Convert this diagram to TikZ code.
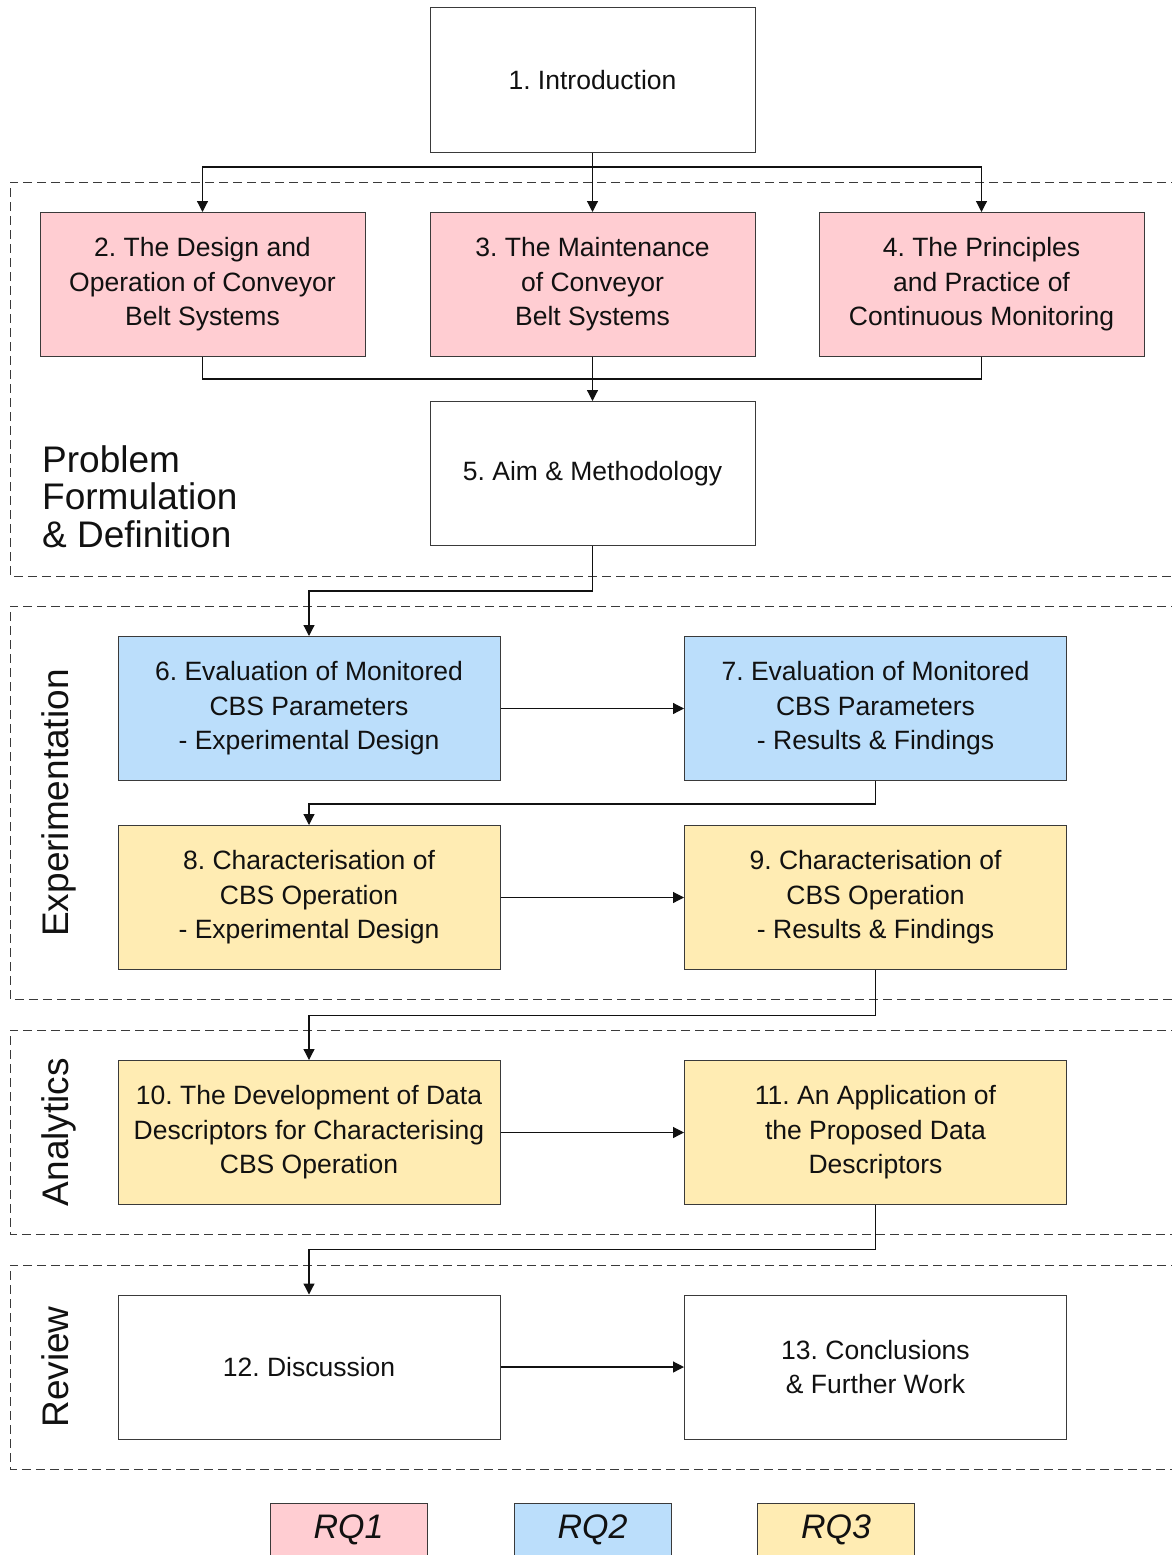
\documentclass[tikz,border=0pt]{standalone}
\usepackage{fontspec}
\setmainfont{Liberation Sans}
\frenchspacing
\usetikzlibrary{arrows.meta}
\definecolor{rqpink}{HTML}{FFCDD2}
\definecolor{rqblue}{HTML}{BBDEFB}
\definecolor{rqyellow}{HTML}{FFECB3}
\definecolor{edgegrey}{HTML}{3A3A3A}
\definecolor{ink}{HTML}{111111}

\begin{document}
\begin{tikzpicture}[x=1pt,y=-1pt,
  chapter/.style={draw=edgegrey, line width=1pt, fill=white, minimum width=325pt,
    minimum height=144pt, inner sep=0pt, align=center, text=ink,
    font=\fontsize{26.5}{34.5}\selectfont},
  wide/.style={chapter, minimum width=382pt},
  conn/.style={line width=1.2pt, draw=ink},
  arr/.style={conn, -{Triangle[length=11pt,width=11pt]}},
  region/.style={draw=edgegrey, line width=1pt, dash pattern=on 9pt off 5pt},
  phase/.style={rotate=90, anchor=base, text=ink, inner sep=0pt,
    font=\fontsize{37}{37}\selectfont},
  legend/.style={draw=edgegrey, line width=1pt, minimum width=157pt,
    minimum height=53pt, inner sep=0pt, text=ink,
    font=\fontsize{34}{34}\selectfont\itshape}
]
\useasboundingbox (0,0) rectangle (1171,1555);

% dashed phase regions (open on the right)
\draw[region] (1180,182) -| (10,576) -- (1180,576);
\draw[region] (1180,606) -| (10,999) -- (1180,999);
\draw[region] (1180,1030) -| (10,1234) -- (1180,1234);
\draw[region] (1180,1265) -| (10,1469) -- (1180,1469);

% phase titles
\node[anchor=north west, align=left, inner sep=0pt, text=ink,
  font=\fontsize{37}{37.5}\selectfont] (ph1) at (42,445)
  {Problem\\Formulation\\\& Definition};
\node[phase] (ph2) at (68,803) {Experimentation};
\node[phase] (ph3) at (68,1132) {Analytics};
\node[phase] (ph4) at (68,1367) {Review};

% chapters
\node[chapter] (n1) at (592.5,80) {1. Introduction};
\node[chapter, fill=rqpink] (n2) at (202.5,284.5) {2. The Design and\\Operation of Conveyor\\Belt Systems};
\node[chapter, fill=rqpink] (n3) at (592.5,284.5) {3. The Maintenance\\of Conveyor\\Belt Systems};
\node[chapter, fill=rqpink] (n4) at (981.5,284.5) {4. The Principles\\and Practice of\\Continuous Monitoring};
\node[chapter] (n5) at (592.5,473.5) {5. Aim \& Methodology};

\node[wide, fill=rqblue] (n6) at (309,708.5) {6. Evaluation of Monitored\\CBS Parameters\\- Experimental Design};
\node[wide, fill=rqblue] (n7) at (875.5,708.5) {7. Evaluation of Monitored\\CBS Parameters\\- Results \& Findings};
\node[wide, fill=rqyellow] (n8) at (309,897.5) {8. Characterisation of\\CBS Operation\\- Experimental Design};
\node[wide, fill=rqyellow] (n9) at (875.5,897.5) {9. Characterisation of\\CBS Operation\\- Results \& Findings};

\node[wide, fill=rqyellow] (n10) at (309,1132.5) {10. The Development of Data\\Descriptors for Characterising\\CBS Operation};
\node[wide, fill=rqyellow] (n11) at (875.5,1132.5) {11. An Application of\\the Proposed Data\\Descriptors};

\node[wide] (n12) at (309,1367) {12. Discussion};
\node[wide] (n13) at (875.5,1367) {13. Conclusions\\\& Further Work};

% connectors
\coordinate (j1) at (592.5,167);
\coordinate (j2) at (592.5,379);
\draw[arr] (n1.south) -- (n3.north);
\draw[arr] (j1) -| (n2.north);
\draw[arr] (j1) -| (n4.north);
\draw[conn] (n2.south) |- (j2);
\draw[conn] (n4.south) |- (j2);
\draw[arr] (n3.south) -- (n5.north);
\draw[arr] (n5.south) -- ++(0,45) -| (n6.north);
\draw[arr] (n6) -- (n7);
\draw[arr] (n7.south) -- ++(0,23) -| (n8.north);
\draw[arr] (n8) -- (n9);
\draw[arr] (n9.south) -- ++(0,45.5) -| (n10.north);
\draw[arr] (n10) -- (n11);
\draw[arr] (n11.south) -- ++(0,44.5) -| (n12.north);
\draw[arr] (n12) -- (n13);

% legend
\node[legend, fill=rqpink] (rq1) at (348.5,1529.5) {RQ1};
\node[legend, fill=rqblue] (rq2) at (592.5,1529.5) {RQ2};
\node[legend, fill=rqyellow] (rq3) at (836,1529.5) {RQ3};
\end{tikzpicture}
\end{document}
